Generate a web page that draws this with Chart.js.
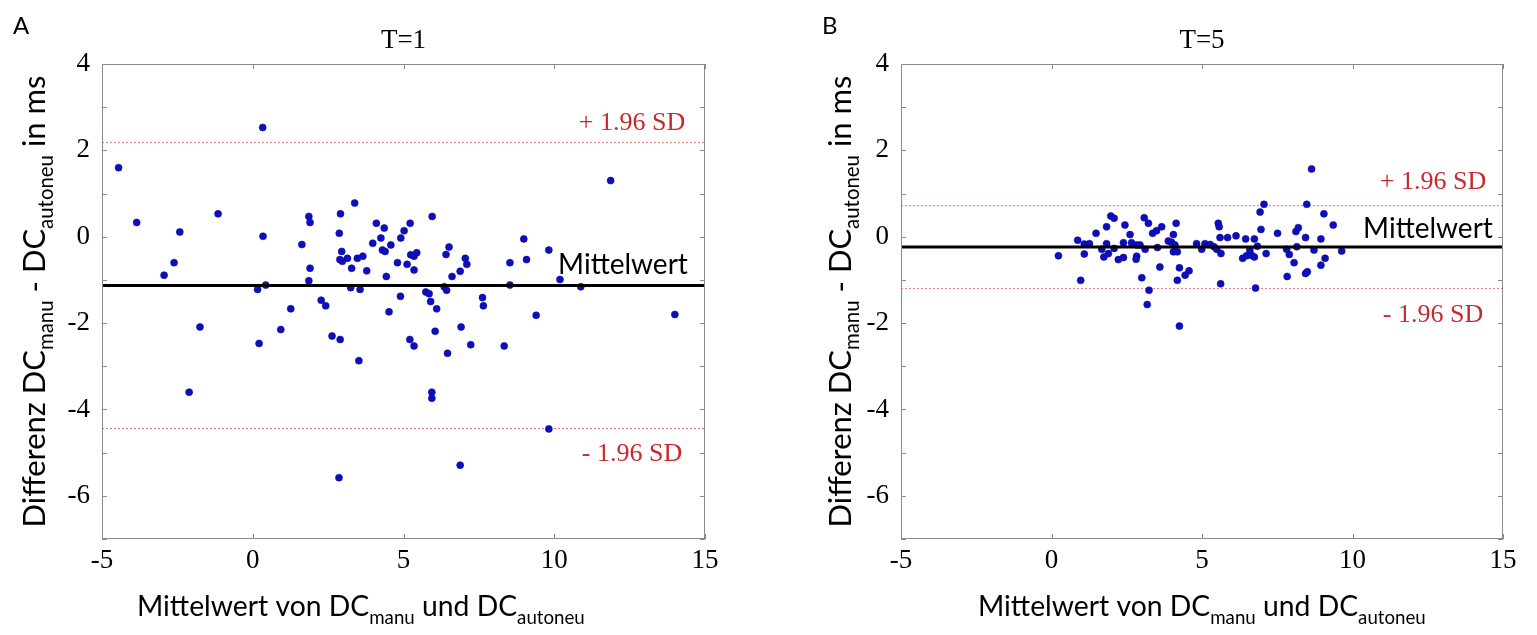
<!DOCTYPE html>
<html>
<head>
<meta charset="utf-8">
<script src="https://cdn.jsdelivr.net/npm/chart.js@4.4.0/dist/chart.umd.min.js"></script>
<style>
  html, body { margin: 0; padding: 0; background: #fff; }
  #wrap { position: relative; width: 1537px; height: 635px; }
  canvas { position: absolute; top: 0; }
</style>
</head>
<body>
<div id="wrap">
  <canvas id="chartA" width="768" height="635" style="left:0"></canvas>
  <canvas id="chartB" width="769" height="635" style="left:768px"></canvas>
</div>
<script>
// Panel A, T=1: mean of both methods (x) vs difference (y)
const meanA = [-4.45, -3.85, -2.94, -2.61, -2.42, -2.11, -1.75, -1.15, 0.33, 0.34, 0.16, 0.43, 0.21, 0.93, 1.26,
  1.63, 1.86, 1.90, 1.90, 1.86, 2.27, 2.42, 2.63, 2.90, 2.86, 2.91, 2.87, 2.95, 2.89, 2.97, 3.14, 3.38, 3.28,
  3.25, 3.56, 3.47, 3.65, 3.52, 3.78, 3.98, 4.10, 4.36, 4.25, 4.30, 4.39, 4.58, 4.43, 4.52, 4.80, 4.91, 5.02,
  5.22, 4.90, 5.12, 5.24, 5.35, 5.44, 5.35, 5.21, 5.35, 5.74, 5.85, 5.90, 6.10, 6.05, 5.95, 5.94, 5.94, 6.41,
  6.51, 6.61, 6.35, 6.43, 6.46, 6.88, 6.88, 7.05, 7.10, 6.91, 7.23, 7.62, 7.65, 8.34, 8.53, 8.53, 8.99, 9.08,
  9.40, 9.82, 9.82, 10.19, 10.88, 11.87, 14.0];
const diffA = [1.60, 0.33, -0.89, -0.60, 0.11, -3.60, -2.09, 0.53, 2.53, 0.01, -1.22, -1.12, -2.47, -2.15, -1.67,
  -0.18, 0.47, 0.33, -0.73, -1.02, -1.47, -1.60, -2.30, -2.38, -5.58, 0.53, 0.08, -0.34, -0.53, -0.57, -0.50, 0.78, -0.73,
  -1.18, -1.22, -0.50, -0.45, -2.87, -0.79, -0.15, 0.31, 0.20, -0.03, -0.31, -0.34, -0.19, -0.92, -1.74, -0.60, -0.03, 0.14,
  0.31, -1.38, -0.64, -0.42, -0.45, -0.37, -0.77, -2.38, -2.53, -1.28, -1.32, -1.50, -1.67, -2.19, 0.47, -3.60, -3.74, -0.41,
  -0.24, -0.92, -1.16, -1.24, -2.70, -0.80, -5.29, -0.50, -0.64, -2.09, -2.50, -1.41, -1.60, -2.53, -0.60, -1.12, -0.05, -0.53,
  -1.82, -0.31, -4.45, -0.99, -1.16, 1.30, -1.80];
const levelsA = [2.18, -1.13, -4.44]; // +1.96 SD, mean, -1.96 SD

// Panel B, T=5
const meanB = [0.23, 0.97, 0.87, 1.09, 1.26, 1.09, 1.48, 1.67, 1.74, 1.83, 1.83, 1.97, 2.08, 1.89, 2.08, 2.22, 2.39,
  2.39, 2.44, 2.61, 2.66, 2.83, 2.83, 2.81, 3.00, 2.94, 3.08, 3.22, 3.11, 3.24, 3.18, 3.36, 3.49, 3.66, 3.52, 3.60,
  3.88, 4.05, 4.14, 3.99, 4.10, 4.05, 4.18, 4.25, 4.18, 4.44, 4.57, 4.25, 4.82, 4.99, 5.10, 5.27, 5.40, 5.49, 5.54,
  5.57, 5.60, 5.63, 5.62, 5.85, 6.13, 6.45, 6.35, 6.48, 6.59, 6.65, 6.74, 6.74, 6.84, 6.78, 6.93, 7.06, 6.96, 7.13,
  7.51, 7.81, 7.90, 8.06, 7.83, 8.12, 8.20, 8.15, 8.44, 8.48, 8.64, 8.44, 8.50, 8.72, 8.95, 8.95, 9.09, 9.05, 9.36, 9.64];
const diffB = [-0.44, -1.01, -0.08, -0.17, -0.16, -0.40, 0.08, -0.29, -0.47, -0.16, 0.23, 0.48, 0.43, -0.39, -0.27, -0.53, -0.48,
  -0.14, 0.27, 0.05, -0.14, -0.19, -0.45, -0.52, -0.95, -0.19, 0.44, 0.31, -0.29, -1.24, -1.57, 0.08, 0.14, 0.23, -0.25, -0.70,
  -0.10, 0.05, 0.31, -0.13, -0.19, -0.35, -0.35, -0.72, -1.01, -0.89, -0.79, -2.07, -0.16, -0.29, -0.16, -0.18, -0.23, -0.29, 0.31,
  0.23, -0.02, -0.39, -1.09, -0.02, 0.02, -0.05, -0.50, -0.44, -0.31, -0.43, -0.05, -0.47, -0.22, -1.19, 0.57, 0.75, 0.17, -0.39,
  0.08, -0.29, -0.41, -0.60, -0.92, 0.12, 0.21, -0.23, -0.02, 0.75, 1.57, -0.85, -0.81, -0.31, -0.05, -0.66, -0.50, 0.53, 0.27, -0.33];
const levelsB = [0.72, -0.24, -1.20];

const xRange = [-5, 15];
const yRange = [-7, 4];
const xTicks = [-5, 0, 5, 10, 15];
const yTicks = [4, 2, 0, -2, -4, -6];

const SERIF = '"Liberation Serif", "Times New Roman", serif';
const SANS = 'Lato, "Open Sans", sans-serif';

const yTitle = [['Differenz DC', false], ['manu', true], [' - DC', false], ['autoneu', true], [' in ms', false]];
const xTitle = [['Mittelwert von DC', false], ['manu', true], [' und DC', false], ['autoneu', true]];

// width of a text with subscripts
const richWidth = (ctx, parts, size) => parts.reduce((w, [t, sub]) => {
  ctx.font = `${sub ? size * 0.66 : size}px ${SANS}`;
  return w + ctx.measureText(t).width;
}, 0);

const drawRich = (ctx, parts, size) => {
  let x = 0;
  parts.forEach(([t, sub]) => {
    ctx.font = `${sub ? size * 0.66 : size}px ${SANS}`;
    ctx.fillText(t, x, sub ? size * 0.27 : 0);
    x += ctx.measureText(t).width;
  });
};

// box, inward tick marks and all the text of one panel
const framePlugin = {
  id: 'frame',
  afterDraw(chart, args, o) {
    const { ctx, chartArea: a, scales: { x, y } } = chart;
    ctx.save();
    ctx.strokeStyle = '#8a8a8a';
    ctx.lineWidth = 1;
    ctx.strokeRect(a.left + 0.5, a.top + 0.5, a.right - a.left - 1, a.bottom - a.top - 1);
    ctx.beginPath();
    x.ticks.forEach(t => {
      const px = Math.round(x.getPixelForValue(t.value)) + 0.5;
      ctx.moveTo(px, a.bottom); ctx.lineTo(px, a.bottom - 5);
      ctx.moveTo(px, a.top); ctx.lineTo(px, a.top + 5);
    });
    y.ticks.forEach(t => {
      const py = Math.round(y.getPixelForValue(t.value)) + 0.5;
      ctx.moveTo(a.left, py); ctx.lineTo(a.left + 5, py);
      ctx.moveTo(a.right, py); ctx.lineTo(a.right - 5, py);
    });
    ctx.stroke();

    const cx = (a.left + a.right) / 2;
    ctx.fillStyle = '#000';
    ctx.textBaseline = 'alphabetic';

    // panel letter and title
    ctx.textAlign = 'left';
    ctx.font = `24px ${SANS}`;
    ctx.fillText(o.letter, o.letterX, 34);
    ctx.textAlign = 'center';
    ctx.font = `27px ${SERIF}`;
    ctx.fillText(o.title, cx, 48);

    // SD labels and mean label
    const [up, mean, low] = o.levels;
    ctx.font = `26px ${SERIF}`;
    ctx.fillStyle = '#c62a2e';
    ctx.textBaseline = 'middle';
    ctx.fillText('+ 1.96 SD', a.right + o.sdDx, y.getPixelForValue(up) + o.upDy);
    ctx.fillText('- 1.96 SD', a.right + o.sdDx, y.getPixelForValue(low) + o.lowDy);
    ctx.fillStyle = '#000';
    ctx.font = `28px ${SANS}`;
    ctx.fillText('Mittelwert', a.right + o.meanDx, y.getPixelForValue(mean) + o.meanDy);

    // axis titles
    ctx.textAlign = 'left';
    ctx.textBaseline = 'alphabetic';
    let len = 448;
    let size = 100 * len / richWidth(ctx, xTitle, 100);
    ctx.save();
    ctx.translate(o.xTitleCx - len / 2, 616);
    drawRich(ctx, xTitle, size);
    ctx.restore();

    len = 452;
    size = 100 * len / richWidth(ctx, yTitle, 100);
    ctx.save();
    ctx.translate(o.yTitleX, (a.top + a.bottom) / 2 + len / 2);
    ctx.rotate(-Math.PI / 2);
    drawRich(ctx, yTitle, size);
    ctx.restore();
    ctx.restore();
  }
};

const makeChart = (id, xs, ys, levels, o) => {
  const [up, mean, low] = levels;
  const hline = (v) => xRange.map(xv => ({ x: xv, y: v }));
  return new Chart(document.getElementById(id), {
    type: 'scatter',
    data: {
      datasets: [
        { type: 'line', data: hline(mean), borderColor: '#000', borderWidth: 3, pointRadius: 0, order: 0 },
        { data: xs.map((v, i) => ({ x: v, y: ys[i] })), pointRadius: 3.5, backgroundColor: '#0e0ec0',
          borderColor: '#0a0a96', borderWidth: 0.6, order: 1 },
        { type: 'line', data: hline(up), borderColor: '#e27a7a', borderWidth: 1, borderDash: [2, 2], pointRadius: 0, order: 2 },
        { type: 'line', data: hline(low), borderColor: '#e27a7a', borderWidth: 1, borderDash: [2, 2], pointRadius: 0, order: 2 }
      ]
    },
    options: {
      responsive: false,
      animation: false,
      layout: { padding: { left: 0, right: o.padRight, top: 64, bottom: 0 } },
      plugins: { legend: { display: false }, tooltip: { enabled: false }, frame: o },
      scales: {
        x: {
          type: 'linear', min: xRange[0], max: xRange[1],
          afterBuildTicks: s => { s.ticks = xTicks.map(v => ({ value: v })); },
          ticks: { color: '#000', font: { family: SERIF, size: 27 }, padding: 6, maxRotation: 0 },
          grid: { display: false, drawTicks: false },
          border: { display: false },
          afterFit: s => { s.height = 96; }
        },
        y: {
          type: 'linear', min: yRange[0], max: yRange[1],
          ticks: {
            stepSize: 1, autoSkip: false, color: '#000', font: { family: SERIF, size: 27 }, padding: 12,
            callback: v => (yTicks.includes(v) ? String(v) : '')
          },
          grid: { display: false, drawTicks: false },
          border: { display: false },
          afterFit: s => { s.width = o.axisW; }
        }
      }
    },
    plugins: [framePlugin]
  });
};

makeChart('chartA', meanA, diffA, levelsA, {
  letter: 'A', letterX: 13, title: 'T=1', levels: levelsA,
  padRight: 63, axisW: 102, xTitleCx: 361, yTitleX: 45,
  sdDx: -73, upDy: -19, lowDy: 26, meanDx: -82, meanDy: -21
});
makeChart('chartB', meanB, diffB, levelsB, {
  letter: 'B', letterX: 54, title: 'T=5', levels: levelsB,
  padRight: 34, axisW: 133, xTitleCx: 434, yTitleX: 83,
  sdDx: -70, upDy: -23, lowDy: 27, meanDx: -75, meanDy: -18
});
</script>
</body>
</html>
